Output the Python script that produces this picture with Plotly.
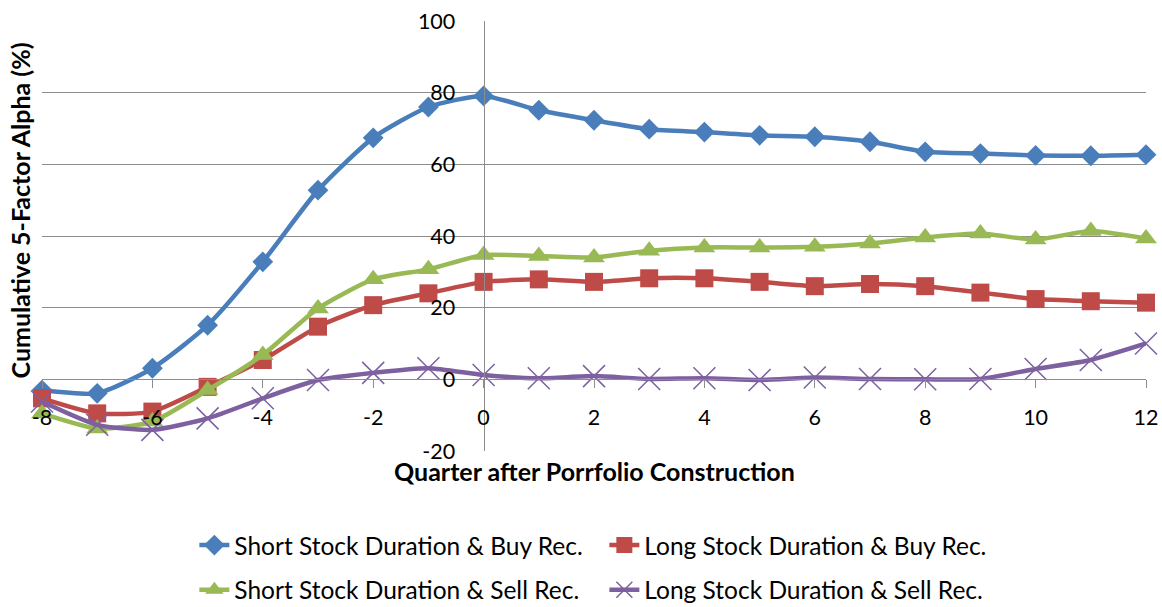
import plotly.graph_objects as go

# Quarters relative to portfolio formation
quarters = list(range(-8, 13))

short_buy = [-3.0, -3.9, 3.1, 15.1, 32.8, 52.8, 67.4, 76.0, 79.1, 75.1, 72.3,
             69.8, 69.0, 68.1, 67.7, 66.3, 63.5, 63.0, 62.5, 62.4, 62.7]
long_buy = [-5.3, -9.5, -9.0, -2.1, 5.4, 14.7, 20.7, 24.0, 27.2, 27.9, 27.2,
            28.2, 28.2, 27.2, 26.0, 26.6, 26.0, 24.2, 22.4, 21.8, 21.4]
short_sell = [-9.5, -13.7, -11.8, -3.0, 6.8, 19.8, 27.9, 30.7, 34.7, 34.4, 34.0,
              35.9, 36.8, 36.8, 37.0, 37.9, 39.6, 40.7, 39.0, 41.4, 39.3]
long_sell = [-6.2, -12.7, -14.1, -10.9, -5.3, -0.2, 1.8, 3.1, 1.2, 0.3, 0.9,
             0.1, 0.3, -0.2, 0.5, 0.1, 0.0, 0.1, 2.9, 5.4, 10.0]

x_ticks = [-8, -6, -4, -2, 0, 2, 4, 6, 8, 10, 12]
x_tick_text = ["-8", "-6", "-4", "-2", "0", "2", "4", "6", "8", "10", "12"]
y_ticks = [-20, 0, 20, 40, 60, 80, 100]
y_tick_text = ["-20", "0", "20", "40", "60", "80", "100"]

FONT = "Lato"
GRID = "#8c8c8c"

series = [
    ("Short Stock Duration & Buy Rec.", short_buy, "#4A7EBB", "diamond", 16, "legend"),
    ("Long Stock Duration & Buy Rec.", long_buy, "#BE4B48", "square", 18, "legend"),
    ("Short Stock Duration & Sell Rec.", short_sell, "#98B954", "triangle-up", 19, "legend2"),
    ("Long Stock Duration & Sell Rec.", long_sell, "#7D60A0", "x-thin", 22, "legend2"),
]

fig = go.Figure()
for name, vals, color, symbol, size, leg in series:
    marker = dict(symbol=symbol, size=size, color=color)
    if symbol == "x-thin":
        marker["line"] = dict(color=color, width=1.5)
    fig.add_trace(go.Scatter(
        x=quarters, y=vals, name=name, mode="lines+markers",
        line=dict(color=color, width=4.5, shape="spline", smoothing=0.6),
        marker=marker, cliponaxis=False, legend=leg,
    ))

legend_common = dict(orientation="h", xanchor="left", yanchor="middle",
                     entrywidth=365, entrywidthmode="pixels",
                     font=dict(size=24.5), bgcolor="rgba(0,0,0,0)")

fig.update_layout(
    width=1162, height=607,
    margin=dict(l=42, r=16, t=21, b=156, autoexpand=False),
    paper_bgcolor="white", plot_bgcolor="white",
    font=dict(family=FONT, size=22, color="black"),
    showlegend=True,
    xaxis=dict(
        range=[-8, 12], tickvals=x_ticks, ticktext=x_tick_text,
        showgrid=False, zeroline=False,
        anchor="free", position=20 / 120,
        showline=True, linecolor=GRID, linewidth=1,
        ticks="outside", ticklen=8, tickcolor=GRID,
        ticklabelstandoff=11, tickfont=dict(size=21.5),
    ),
    yaxis=dict(
        range=[-20, 100], tickvals=y_ticks, ticktext=y_tick_text,
        showgrid=True, gridcolor=GRID, gridwidth=1, zeroline=False,
        anchor="free", position=8 / 20,
        showline=True, linecolor=GRID, linewidth=1,
        ticks="", ticklabelstandoff=24, tickfont=dict(size=21.5),
    ),
    legend=dict(x=0.138, y=-0.219, **legend_common),
    legend2=dict(x=0.138, y=-0.323, **legend_common),
    annotations=[
        dict(text="<b>Quarter after Porrfolio Construction</b>", xref="paper", yref="paper",
             x=0.5, y=-0.046, xanchor="center", yanchor="middle", showarrow=False,
             font=dict(size=25)),
        dict(text="<b>Cumulative 5-Factor Alpha (%)</b>", xref="paper", yref="paper",
             x=-0.0197, y=0.56, xanchor="center", yanchor="middle", showarrow=False,
             textangle=-90, font=dict(size=25)),
    ],
)

fig.write_html("out.html")
